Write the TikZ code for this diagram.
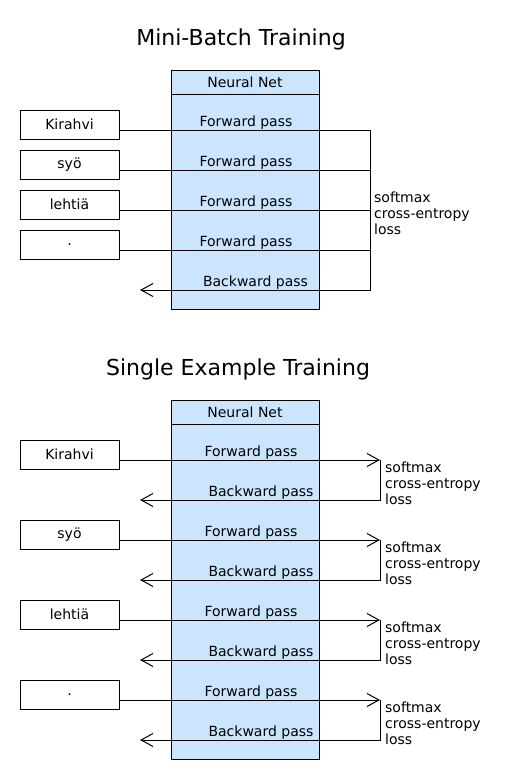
\documentclass[tikz,border=0pt]{standalone}
\usepackage{fontspec}
\setmainfont{DejaVu Sans}
\usepackage{xcolor}
\usetikzlibrary{arrows.meta,positioning}
\definecolor{netblue}{RGB}{204,229,255}
\tikzset{
  titlelabel/.style={font=\fontsize{22}{26}\selectfont},
  word/.style={rectangle, draw, line width=1pt, minimum width=99pt, minimum height=29pt, inner sep=0pt, font=\fontsize{14}{16}\selectfont},
  nethead/.style={rectangle, draw, line width=1pt, outer sep=0pt, fill=netblue, minimum width=148pt, minimum height=24pt, inner sep=0pt, font=\fontsize{14}{16}\selectfont},
  netbody/.style={rectangle, draw, line width=1pt, outer sep=0pt, fill=netblue, minimum width=148pt, inner sep=0pt},
  passlabel/.style={inner sep=0pt, font=\fontsize{14}{16}\selectfont},
  losslabel/.style={anchor=west, align=left, inner sep=0pt, font=\fontsize{14}{16}\selectfont},
  wire/.style={line width=1pt},
  back/.style={line width=1pt, -{Straight Barb[length=12pt,width=13pt]}}
}

\begin{document}
\begin{tikzpicture}[x=1pt, y=-1pt]
  \useasboundingbox (0,0) rectangle (510,780);

  % mini-batch
  \node[titlelabel] (titleA) at (241,39) {Mini-Batch Training};
  \node[nethead] (headA) at (245,82) {Neural Net};
  \node[netbody, minimum height=215pt, below=0pt of headA] (bodyA) {};
  \node[word] (inA1) at (69.5,124.5) {Kirahvi};
  \node[word] (inA2) at (69.5,164.5) {syö};
  \node[word] (inA3) at (69.5,204.5) {lehtiä};
  \node[word] (inA4) at (69.5,244.5) {.};
  \node[passlabel] (fwdA1) at (246,123) {Forward pass};
  \node[passlabel] (fwdA2) at (246,163) {Forward pass};
  \node[passlabel] (fwdA3) at (246,203) {Forward pass};
  \node[passlabel] (fwdA4) at (246,243) {Forward pass};
  \node[passlabel] (bwdA) at (255.5,283) {Backward pass};
  \node[losslabel] (lossA) at (374,213) {softmax\\cross-entropy\\loss};
  \coordinate (fA1) at (370,130);
  \coordinate (fA2) at (370,170);
  \coordinate (fA3) at (370,210);
  \coordinate (fA4) at (370,250);
  \coordinate (bA) at (370,290);
  \coordinate (tipA) at (140,290);
  \draw[wire] (inA1.east |- fA1) -- (fA1);
  \draw[wire] (inA2.east |- fA2) -- (fA2);
  \draw[wire] (inA3.east |- fA3) -- (fA3);
  \draw[wire] (inA4.east |- fA4) -- (fA4);
  \draw[back] (fA1) -- (bA) -- (tipA);

  % single example
  \node[titlelabel] (titleB) at (238,369) {Single Example Training};
  \node[nethead] (headB) at (245,412) {Neural Net};
  \node[netbody, minimum height=335pt, below=0pt of headB] (bodyB) {};
  \node[word] (inB1) at (69.5,454.5) {Kirahvi};
  \node[word] (inB2) at (69.5,534.5) {syö};
  \node[word] (inB3) at (69.5,614.5) {lehtiä};
  \node[word] (inB4) at (69.5,694.5) {.};
  \node[passlabel] (fwdB1) at (251,453) {Forward pass};
  \node[passlabel] (bwdB1) at (261,493) {Backward pass};
  \node[passlabel] (fwdB2) at (251,533) {Forward pass};
  \node[passlabel] (bwdB2) at (261,573) {Backward pass};
  \node[passlabel] (fwdB3) at (251,613) {Forward pass};
  \node[passlabel] (bwdB3) at (261,653) {Backward pass};
  \node[passlabel] (fwdB4) at (251,693) {Forward pass};
  \node[passlabel] (bwdB4) at (261,733) {Backward pass};
  \node[losslabel] (lossB1) at (385,483) {softmax\\cross-entropy\\loss};
  \node[losslabel] (lossB2) at (385,563) {softmax\\cross-entropy\\loss};
  \node[losslabel] (lossB3) at (385,643) {softmax\\cross-entropy\\loss};
  \node[losslabel] (lossB4) at (385,723) {softmax\\cross-entropy\\loss};
  \coordinate (fB1) at (380,460);
  \coordinate (bB1) at (380,500);
  \coordinate (tipB1) at (140,500);
  \coordinate (fB2) at (380,540);
  \coordinate (bB2) at (380,580);
  \coordinate (tipB2) at (140,580);
  \coordinate (fB3) at (380,620);
  \coordinate (bB3) at (380,660);
  \coordinate (tipB3) at (140,660);
  \coordinate (fB4) at (380,700);
  \coordinate (bB4) at (380,740);
  \coordinate (tipB4) at (140,740);
  \draw[back] (inB1.east |- fB1) -- (fB1);
  \draw[back] (fB1) -- (bB1) -- (tipB1);
  \draw[back] (inB2.east |- fB2) -- (fB2);
  \draw[back] (fB2) -- (bB2) -- (tipB2);
  \draw[back] (inB3.east |- fB3) -- (fB3);
  \draw[back] (fB3) -- (bB3) -- (tipB3);
  \draw[back] (inB4.east |- fB4) -- (fB4);
  \draw[back] (fB4) -- (bB4) -- (tipB4);
\end{tikzpicture}
\end{document}
